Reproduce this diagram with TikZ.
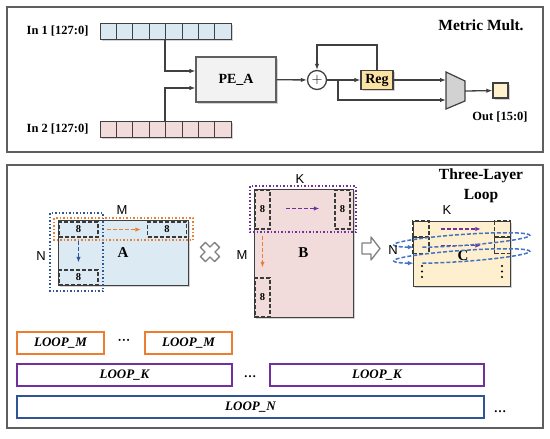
\documentclass[tikz,border=0pt]{standalone}
\usepackage{fontspec}
\setmainfont{Liberation Serif}
\setsansfont{Liberation Sans}
\usepackage{xcolor}
\usepackage{tikz}
\usetikzlibrary{arrows.meta,positioning,calc,shadows}
\definecolor{CellBlue}{HTML}{DAE9F1}
\definecolor{CellPink}{HTML}{F2DCDB}
\definecolor{PeGray}{HTML}{F2F2F2}
\definecolor{RegYellow}{HTML}{FDE3A3}
\definecolor{OutYellow}{HTML}{FFF2CC}
\definecolor{MatBlue}{HTML}{DCEAF3}
\definecolor{MatPink}{HTML}{F2DCDB}
\definecolor{MatYellow}{HTML}{FEF0CE}
\definecolor{LoopOrange}{HTML}{ED7D31}
\definecolor{LoopPurple}{HTML}{7030A0}
\definecolor{LoopBlue}{HTML}{2F5597}
\definecolor{CoilBlue}{HTML}{4472C4}
\definecolor{LineGray}{HTML}{404040}
\definecolor{PanelGray}{HTML}{5F5F5F}

\begin{document}
\begin{tikzpicture}[
  x=1pt, y=-1pt,
  font=\bfseries\fontsize{12.5}{14}\selectfont,
  panel/.style={draw=PanelGray, line width=1.5pt},
  title/.style={font=\bfseries\fontsize{15.5}{20}\selectfont, align=center},
  shade/.style={drop shadow={shadow xshift=1.5pt, shadow yshift=-1.5pt, opacity=0.35}},
  cell/.style={draw=LineGray, line width=1pt, minimum width=16.4pt, minimum height=16pt, inner sep=0pt, shade},
  unit/.style={draw=LineGray, line width=1.2pt, inner sep=0pt, shade},
  wire/.style={draw=LineGray, line width=1.3pt, -{Latex[length=6pt,width=4.5pt]}},
  matrixbox/.style={draw=LineGray, line width=1pt, inner sep=0pt, shade, font=\bfseries\fontsize{15}{17}\selectfont},
  tile/.style={draw=LineGray!90!black, line width=1.3pt, dash pattern=on 4pt off 2pt, inner sep=0pt, font=\bfseries\fontsize{10.5}{12}\selectfont},
  dimlabel/.style={font=\sffamily\fontsize{13}{15}\selectfont},
  sweep/.style={line width=1.5pt, dotted},
  flow/.style={line width=1.4pt, dash pattern=on 4pt off 2pt, -{Latex[length=5.5pt,width=4.5pt]}},
  hollow/.style={draw=gray, fill=white, line width=1.3pt, line join=round},
  coil/.style={CoilBlue, line width=1.5pt, dash pattern=on 4pt off 2pt, -{Latex[length=5.5pt,width=4.5pt]}},
  loopbox/.style={draw, line width=1.5pt, minimum height=22pt, inner sep=0pt, font=\bfseries\itshape\fontsize{13}{15}\selectfont}
]
\useasboundingbox (0,0) rectangle (550,439);

% panels
\draw[panel] (7,7) rectangle (543,152);
\draw[panel] (7,165) rectangle (543,428);
\node[title] (multTitle) at (481,25) {Metric Mult.};
\node[title] (loopTitle) at (481,186) {Three-Layer\\Loop};

% ---- metric multiplication ----
\node[anchor=east] (inALabel) at (92,31) {In 1 [127:0]};
\node[anchor=east] (inBLabel) at (92,129) {In 2 [127:0]};
\foreach \i in {0,...,7} {
  \node[cell, fill=CellBlue] (inA-\i) at ({108.2+16.4*\i},31) {};
  \node[cell, fill=CellPink] (inB-\i) at ({108.2+16.4*\i},129) {};
}
\node[unit, draw=PanelGray, fill=PeGray, minimum width=80pt, minimum height=45pt, font=\bfseries\fontsize{14}{16}\selectfont] (pe) at (236,79.5) {PE\_A};
\node[circle, draw=LineGray, fill=white, line width=1.3pt, minimum size=19pt, inner sep=0pt, font=\fontsize{15}{15}\selectfont] (add) at (317,80) {$+$};
\node[unit, fill=RegYellow, minimum width=32pt, minimum height=19pt, font=\bfseries\fontsize{14}{16}\selectfont] (reg) at (377,80) {Reg};
\draw[draw=LineGray, fill=gray!35, line width=1.2pt] (446,72) -- (465,81) -- (465,101) -- (446,109) -- cycle;
\coordinate (muxIn1) at (446,80);
\coordinate (muxIn2) at (446,100);
\coordinate (muxOut) at (465,91);
\node[unit, fill=OutYellow, minimum size=15pt] (out) at (500.5,90.5) {};
\node (outLabel) at (500,117) {Out [15:0]};

\draw[wire] (inA-4.south west) |- ([yshift=8.5pt]pe.west);
\draw[wire] (inB-4.north west) |- ([yshift=-8.5pt]pe.west);
\draw[wire] (pe) -- (add);
\draw[wire] (add) -- (reg);
\draw[wire] (reg.north) -- ++(0,-25) -| (add.north);
\coordinate (split) at ($(add.east)!0.33!(reg.west)$);
\draw[wire] (split) |- (muxIn2);
\draw[wire] (reg.east) -- (muxIn1);
\draw[wire] (muxOut) -- (out);

% ---- matrix A ----
\node[matrixbox, fill=MatBlue, minimum width=130pt, minimum height=65pt] (matA) at (123,252.5) {A};
\draw[sweep, LoopBlue] (50,213) rectangle (103,291);
\draw[sweep, LoopOrange] (54,218) rectangle (193,240);
\node[tile, minimum width=39pt, minimum height=15pt] (tileA1) at (78.5,229.5) {8};
\node[tile, minimum width=39pt, minimum height=15pt] (tileA2) at (167,229.5) {8};
\node[tile, minimum width=39pt, minimum height=15pt] (tileA3) at (78.5,277.5) {8};
\draw[flow, LoopOrange] ([xshift=8pt]tileA1.east) -- ([xshift=-6pt]tileA2.west);
\draw[flow, LoopBlue] ([yshift=-3pt]tileA1.south) -- ([yshift=7pt]tileA3.north);
\node[dimlabel] (mA) at (122,210) {M};
\node[dimlabel] (nA) at (41,256) {N};

% times
\draw[hollow, shift={(210,252)}, rotate=45] (-3.5,-10) -- (3.5,-10) -- (3.5,-3.5) -- (10,-3.5) -- (10,3.5) -- (3.5,3.5) -- (3.5,10) -- (-3.5,10) -- (-3.5,3.5) -- (-10,3.5) -- (-10,-3.5) -- (-3.5,-3.5) -- cycle;

% ---- matrix B ----
\node[matrixbox, fill=MatPink, minimum width=99pt, minimum height=128pt] (matB) at (303.5,253) {B};
\draw[sweep, LoopPurple] (250,186) rectangle (356,232);
\node[tile, minimum width=15pt, minimum height=39pt] (tileB1) at (262.5,209.5) {8};
\node[tile, minimum width=15pt, minimum height=39pt] (tileB2) at (342.5,209.5) {8};
\node[tile, minimum width=15pt, minimum height=39pt] (tileB3) at (262.5,297.5) {8};
\draw[flow, LoopPurple] ([xshift=15pt,yshift=1pt]tileB1.east) -- ([xshift=-15pt,yshift=1pt]tileB2.west);
\draw[flow, LoopOrange] ([yshift=-6pt]tileB1.south) -- ([yshift=10pt]tileB3.north);
\node[dimlabel] (kB) at (300,179) {K};
\node[dimlabel] (mB) at (242,255) {M};

% result arrow
\draw[hollow] (362,243) -- (371,243) -- (371,237) -- (380,248.5) -- (371,260) -- (371,254) -- (362,254) -- cycle;

% ---- matrix C ----
\node[matrixbox, fill=MatYellow, minimum width=97pt, minimum height=65pt] (matC) at (461.5,253.5) {};
\node[tile, minimum size=16pt] (tileC1) at (421,229) {};
\node[tile, minimum size=16pt] (tileC2) at (421,245.5) {};
\node[tile, minimum size=16pt] (tileC3) at (502.5,229) {};
\node[tile, minimum size=16pt] (tileC4) at (502.5,245.5) {};
\draw[flow, LoopPurple] ([xshift=11pt]tileC1.east) -- ([xshift=-13pt]tileC3.west);
\draw[flow, LoopPurple] ([xshift=11pt]tileC2.east) -- ([xshift=-13pt]tileC4.west);
\node[font=\bfseries\fontsize{15}{17}\selectfont] (cLabel) at (463,256) {C};
\foreach \dx in {422,502}
  \foreach \dy in {266,271.5,277}
    \fill[black] (\dx,\dy) circle (1.1pt);
\foreach \cy in {240,256} {
  \begin{scope}[shift={(462,\cy)}, rotate=4]
    \draw[coil] (486:68 and 5.5) arc[start angle=486, end angle=136, x radius=68, y radius=5.5];
  \end{scope}
}
\node[dimlabel] (kC) at (447,210) {K};
\node[dimlabel] (nC) at (393,250) {N};

% ---- loop bars ----
\node[loopbox, LoopOrange, minimum width=87pt] (loopM1) at (60.5,343) {\color{black}LOOP\_M};
\node[loopbox, LoopOrange, minimum width=87pt] (loopM2) at (188.5,343) {\color{black}LOOP\_M};
\node (dotsM) at (124,342) {···};
\node[loopbox, LoopPurple, minimum width=215pt] (loopK1) at (124.5,375) {\color{black}LOOP\_K};
\node[loopbox, LoopPurple, minimum width=214pt] (loopK2) at (377,375) {\color{black}LOOP\_K};
\node (dotsK) at (250,377) {\dots};
\node[loopbox, LoopBlue, minimum width=467pt] (loopN) at (250.5,407) {\color{black}LOOP\_N};
\node (dotsN) at (500,412) {\dots};
\end{tikzpicture}
\end{document}
